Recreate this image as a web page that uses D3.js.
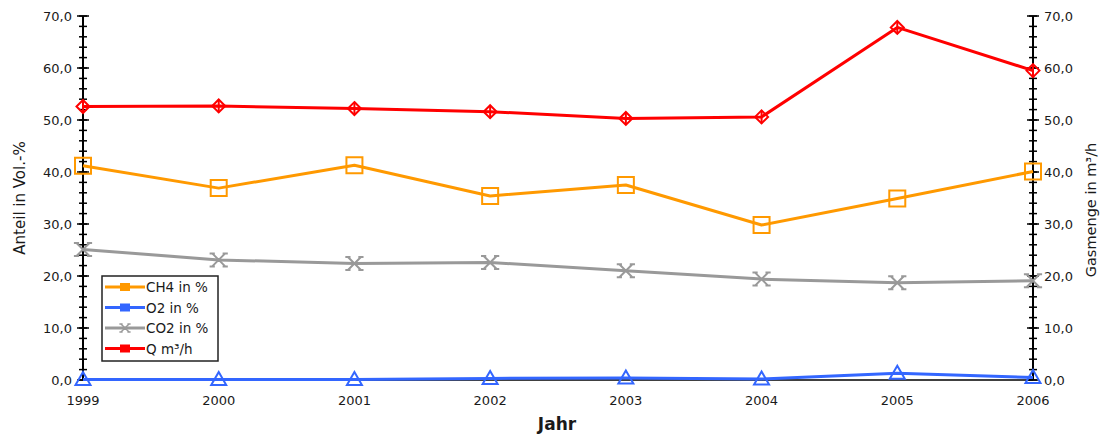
<!DOCTYPE html>
<html>
<head>
<meta charset="utf-8">
<script src="https://cdn.jsdelivr.net/npm/d3@7/dist/d3.min.js"></script>
<style>
  html, body { margin: 0; padding: 0; background: #fff; }
  svg { display: block; font-family: "DejaVu Sans", "Liberation Sans", Arial, sans-serif; }
</style>
</head>
<body>
<svg id="chart" width="1106" height="434"></svg>
<script>
// Jahre und Messwerte
const years = [1999, 2000, 2001, 2002, 2003, 2004, 2005, 2006];
const ch4 = [41.2, 36.9, 41.3, 35.4, 37.5, 29.8, 34.9, 40.1];
const o2  = [0.1, 0.1, 0.1, 0.3, 0.4, 0.2, 1.3, 0.5];
const co2 = [25.1, 23.1, 22.4, 22.6, 21.0, 19.4, 18.7, 19.1];
const q   = [52.6, 52.7, 52.2, 51.6, 50.3, 50.6, 67.8, 59.5];
const yTicks = [0, 10, 20, 30, 40, 50, 60, 70];

const series = [
  { name: "CH4 in %", values: ch4, color: "#FF9900", marker: "square" },
  { name: "O2 in %",  values: o2,  color: "#3366FF", marker: "triangle" },
  { name: "CO2 in %", values: co2, color: "#999999", marker: "cross" },
  { name: "Q m³/h",   values: q,   color: "#FF0000", marker: "diamond" }
];

const svg = d3.select("#chart");
const plot = { left: 83, right: 1033, top: 16, bottom: 380 };

const x = d3.scalePoint().domain(years).range([plot.left, plot.right]);
const yL = d3.scaleLinear().domain([0, 70]).range([plot.bottom, plot.top]);
const yR = d3.scaleLinear().domain([0, 70]).range([plot.bottom, plot.top]);
const fmt = d => d3.format(".1f")(d).replace(".", ",");
const textColor = "#1a1a1a";

// X-Achsenlinie
svg.append("line")
  .attr("x1", plot.left).attr("x2", plot.right)
  .attr("y1", plot.bottom).attr("y2", plot.bottom)
  .attr("stroke", "#000").attr("stroke-width", 1.5);

// Y-Achsen mit Haupt- und Nebenstrichen
function drawAxis(xPos, scale, side) {
  const g = svg.append("g");
  g.append("line")
    .attr("x1", xPos).attr("x2", xPos)
    .attr("y1", scale(0)).attr("y2", scale(70))
    .attr("stroke", "#000").attr("stroke-width", 2);
  const minor = d3.range(0, 70.01, 2);
  g.selectAll(".minor").data(minor).join("line")
    .attr("class", "minor")
    .attr("x1", xPos - 4).attr("x2", xPos + 4)
    .attr("y1", d => scale(d)).attr("y2", d => scale(d))
    .attr("stroke", "#000").attr("stroke-width", 1.5);
  g.selectAll(".major").data(yTicks).join("line")
    .attr("class", "major")
    .attr("x1", xPos - 6).attr("x2", xPos + 6)
    .attr("y1", d => scale(d)).attr("y2", d => scale(d))
    .attr("stroke", "#000").attr("stroke-width", 1.5);
  g.selectAll("text").data(yTicks).join("text")
    .attr("x", side === "left" ? xPos - 11 : xPos + 11)
    .attr("y", d => scale(d) + 5)
    .attr("text-anchor", side === "left" ? "end" : "start")
    .attr("font-size", 13)
    .attr("fill", textColor)
    .text(fmt);
}
drawAxis(plot.left, yL, "left");
drawAxis(plot.right, yR, "right");

// Jahresbeschriftungen
svg.selectAll(".xlab").data(years).join("text")
  .attr("class", "xlab")
  .attr("x", d => x(d)).attr("y", 405)
  .attr("text-anchor", "middle")
  .attr("font-size", 13).attr("fill", textColor)
  .text(d => d);

// Achsentitel
svg.append("text")
  .attr("x", 557).attr("y", 430)
  .attr("text-anchor", "middle")
  .attr("font-size", 17).attr("font-weight", "bold").attr("fill", textColor)
  .text("Jahr");
svg.append("text")
  .attr("transform", "translate(25,198) rotate(-90)")
  .attr("text-anchor", "middle")
  .attr("font-size", 15).attr("fill", textColor)
  .text("Anteil in Vol.-%");
svg.append("text")
  .attr("transform", "translate(1096,210) rotate(-90)")
  .attr("text-anchor", "middle")
  .attr("font-size", 14.5).attr("fill", textColor)
  .text("Gasmenge in m³/h");

// Markerformen
function markerPath(type, s) {
  const h = s / 2;
  const sf = s * 0.2;
  switch (type) {
    case "square":
      return `M${-h},${-h}H${h}V${h}H${-h}Z`;
    case "triangle":
      return `M0,${-h}L${h},${h * 0.75}H${-h}Z`;
    case "cross":
      return `M${-h},${-h}L${h},${h}M${h},${-h}L${-h},${h}` +
        `M${-h - sf},${-h}H${-h + sf}M${h - sf},${-h}H${h + sf}` +
        `M${-h - sf},${h}H${-h + sf}M${h - sf},${h}H${h + sf}`;
    case "diamond":
      return `M0,${-h}L${h},0L0,${h}L${-h},0Z`;
  }
}

// Linien und Marker
const line = d3.line().x((d, i) => x(years[i])).y(d => yL(d));
series.forEach(s => {
  const g = svg.append("g");
  g.append("path")
    .datum(s.values)
    .attr("d", line)
    .attr("fill", "none")
    .attr("stroke", s.color)
    .attr("stroke-width", 3)
    .attr("stroke-linejoin", "round");
  const size = s.marker === "square" ? 16 : s.marker === "diamond" ? 13 : s.marker === "cross" ? 13 : 15;
  g.selectAll("path.mk").data(s.values).join("path")
    .attr("class", "mk")
    .attr("transform", (d, i) => `translate(${x(years[i])},${yL(d)})`)
    .attr("d", markerPath(s.marker, size))
    .attr("fill", "none")
    .attr("stroke", s.color)
    .attr("stroke-width", 2);
  if (s.marker === "diamond") {
    g.selectAll("line.v").data(s.values).join("line")
      .attr("class", "v")
      .attr("x1", (d, i) => x(years[i])).attr("x2", (d, i) => x(years[i]))
      .attr("y1", d => yL(d) - 6.5).attr("y2", d => yL(d) + 6.5)
      .attr("stroke", s.color).attr("stroke-width", 2);
  }
});

// Legende
const lg = svg.append("g");
lg.append("rect")
  .attr("x", 102).attr("y", 276).attr("width", 116).attr("height", 85)
  .attr("fill", "#fff").attr("stroke", "#222").attr("stroke-width", 1.5);
series.forEach((s, i) => {
  const yy = 287 + i * 20.5;
  lg.append("line")
    .attr("x1", 105).attr("x2", 145).attr("y1", yy).attr("y2", yy)
    .attr("stroke", s.color).attr("stroke-width", 3);
  if (s.marker === "cross") {
    lg.append("path")
      .attr("transform", `translate(125,${yy})`)
      .attr("d", markerPath("cross", 8))
      .attr("fill", "none").attr("stroke", s.color).attr("stroke-width", 1.5);
  } else {
    lg.append("rect")
      .attr("x", 120).attr("y", yy - 4).attr("width", 10).attr("height", 8)
      .attr("fill", s.color);
  }
  lg.append("text")
    .attr("x", 146).attr("y", yy + 5)
    .attr("font-size", 13.5).attr("fill", textColor)
    .text(s.name);
});
</script>
</body>
</html>
